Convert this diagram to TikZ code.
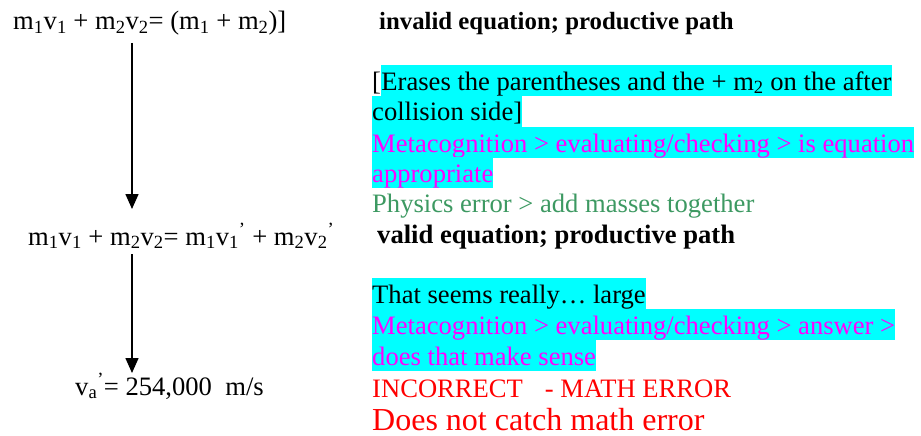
\documentclass[tikz,border=0pt]{standalone}
\usepackage{fontspec}
\setmainfont{Liberation Serif}
\usepackage{xcolor}
\definecolor{HiCyan}{RGB}{0,255,255}
\definecolor{MetaPink}{RGB}{255,0,255}
\definecolor{PhysGreen}{RGB}{61,153,98}
\definecolor{ErrRed}{RGB}{255,0,0}
\usetikzlibrary{calc, positioning, arrows.meta}

\begin{document}
\begin{tikzpicture}[
        x=1pt, y=-1pt,
        font=\fontsize{26.6}{31}\selectfont,
        % Styles
        eqn/.style={anchor=base west, inner sep=0pt},
        line/.style={anchor=base west, inner sep=0pt, text height=25pt, text depth=6pt},
        hl/.style={line, fill=HiCyan},
        verdict/.style={anchor=base west, inner sep=0pt, font=\fontsize{26.6}{31}\selectfont\bfseries},
        flow/.style={-{Triangle[width=13pt,length=15pt]}, line width=1.5pt}
    ]
    \useasboundingbox (0,0) rectangle (921,436);

    % 1. LEFT COLUMN (the equations)
    \node[eqn] (eqA) at (13,30) {m\textsubscript{1}v\textsubscript{1} + m\textsubscript{2}v\textsubscript{2}= (m\textsubscript{1} + m\textsubscript{2})]};
    \node[eqn] (eqB) at (28,245) {m\textsubscript{1}v\textsubscript{1} + m\textsubscript{2}v\textsubscript{2}= m\textsubscript{1}v\textsubscript{1}\textsuperscript{’} + m\textsubscript{2}v\textsubscript{2}\textsuperscript{’}};
    \node[eqn] (eqC) at (75,395) {v\textsubscript{a}\textsuperscript{’}= 254,000\ \ m/s};

    \coordinate (col) at (132,0);
    \draw[flow] ($(eqA.base -| col)+(0,13)$) -- ($(eqB.base -| col)+(0,-36)$);
    \draw[flow] ($(eqB.base -| col)+(0,9)$) -- ($(eqC.base -| col)+(0,-22)$);

    % 2. VERDICTS
    \node[verdict, font=\fontsize{24.8}{31}\selectfont\bfseries] (vdA) at (379,30) {invalid equation; productive path};
    \node[verdict] (vdB) at (377,243) {valid equation; productive path};

    % 3. FIRST STEP NOTES
    \node[line] (brk) at (372,90) {[};
    \node[hl] (erA) at (brk.base east) {Erases the parentheses and the + m\textsubscript{2} on the after};
    \node[hl] (erB) at (372,121) {collision side]};
    \node[hl, text=MetaPink] (mcA) at (372,152) {Metacognition > evaluating/checking > is equation};
    \node[hl, text=MetaPink] (mcB) at (372,182) {appropriate};
    \node[line, text=PhysGreen] (phy) at (372,212) {Physics error > add masses together};

    % 4. SECOND STEP NOTES
    \node[hl] (seem) at (372,303) {That seems really… large};
    \node[hl, text=MetaPink] (mcC) at (372,334) {Metacognition > evaluating/checking > answer >};
    \node[hl, text=MetaPink] (mcD) at (372,365) {does that make sense};
    \node[line, text=ErrRed] (wrong) at (372,397) {INCORRECT\hspace{22pt}- MATH ERROR};
    \node[line, text=ErrRed, font=\fontsize{32}{36}\selectfont] (miss) at (372,430) {Does not catch math error};
\end{tikzpicture}
\end{document}
